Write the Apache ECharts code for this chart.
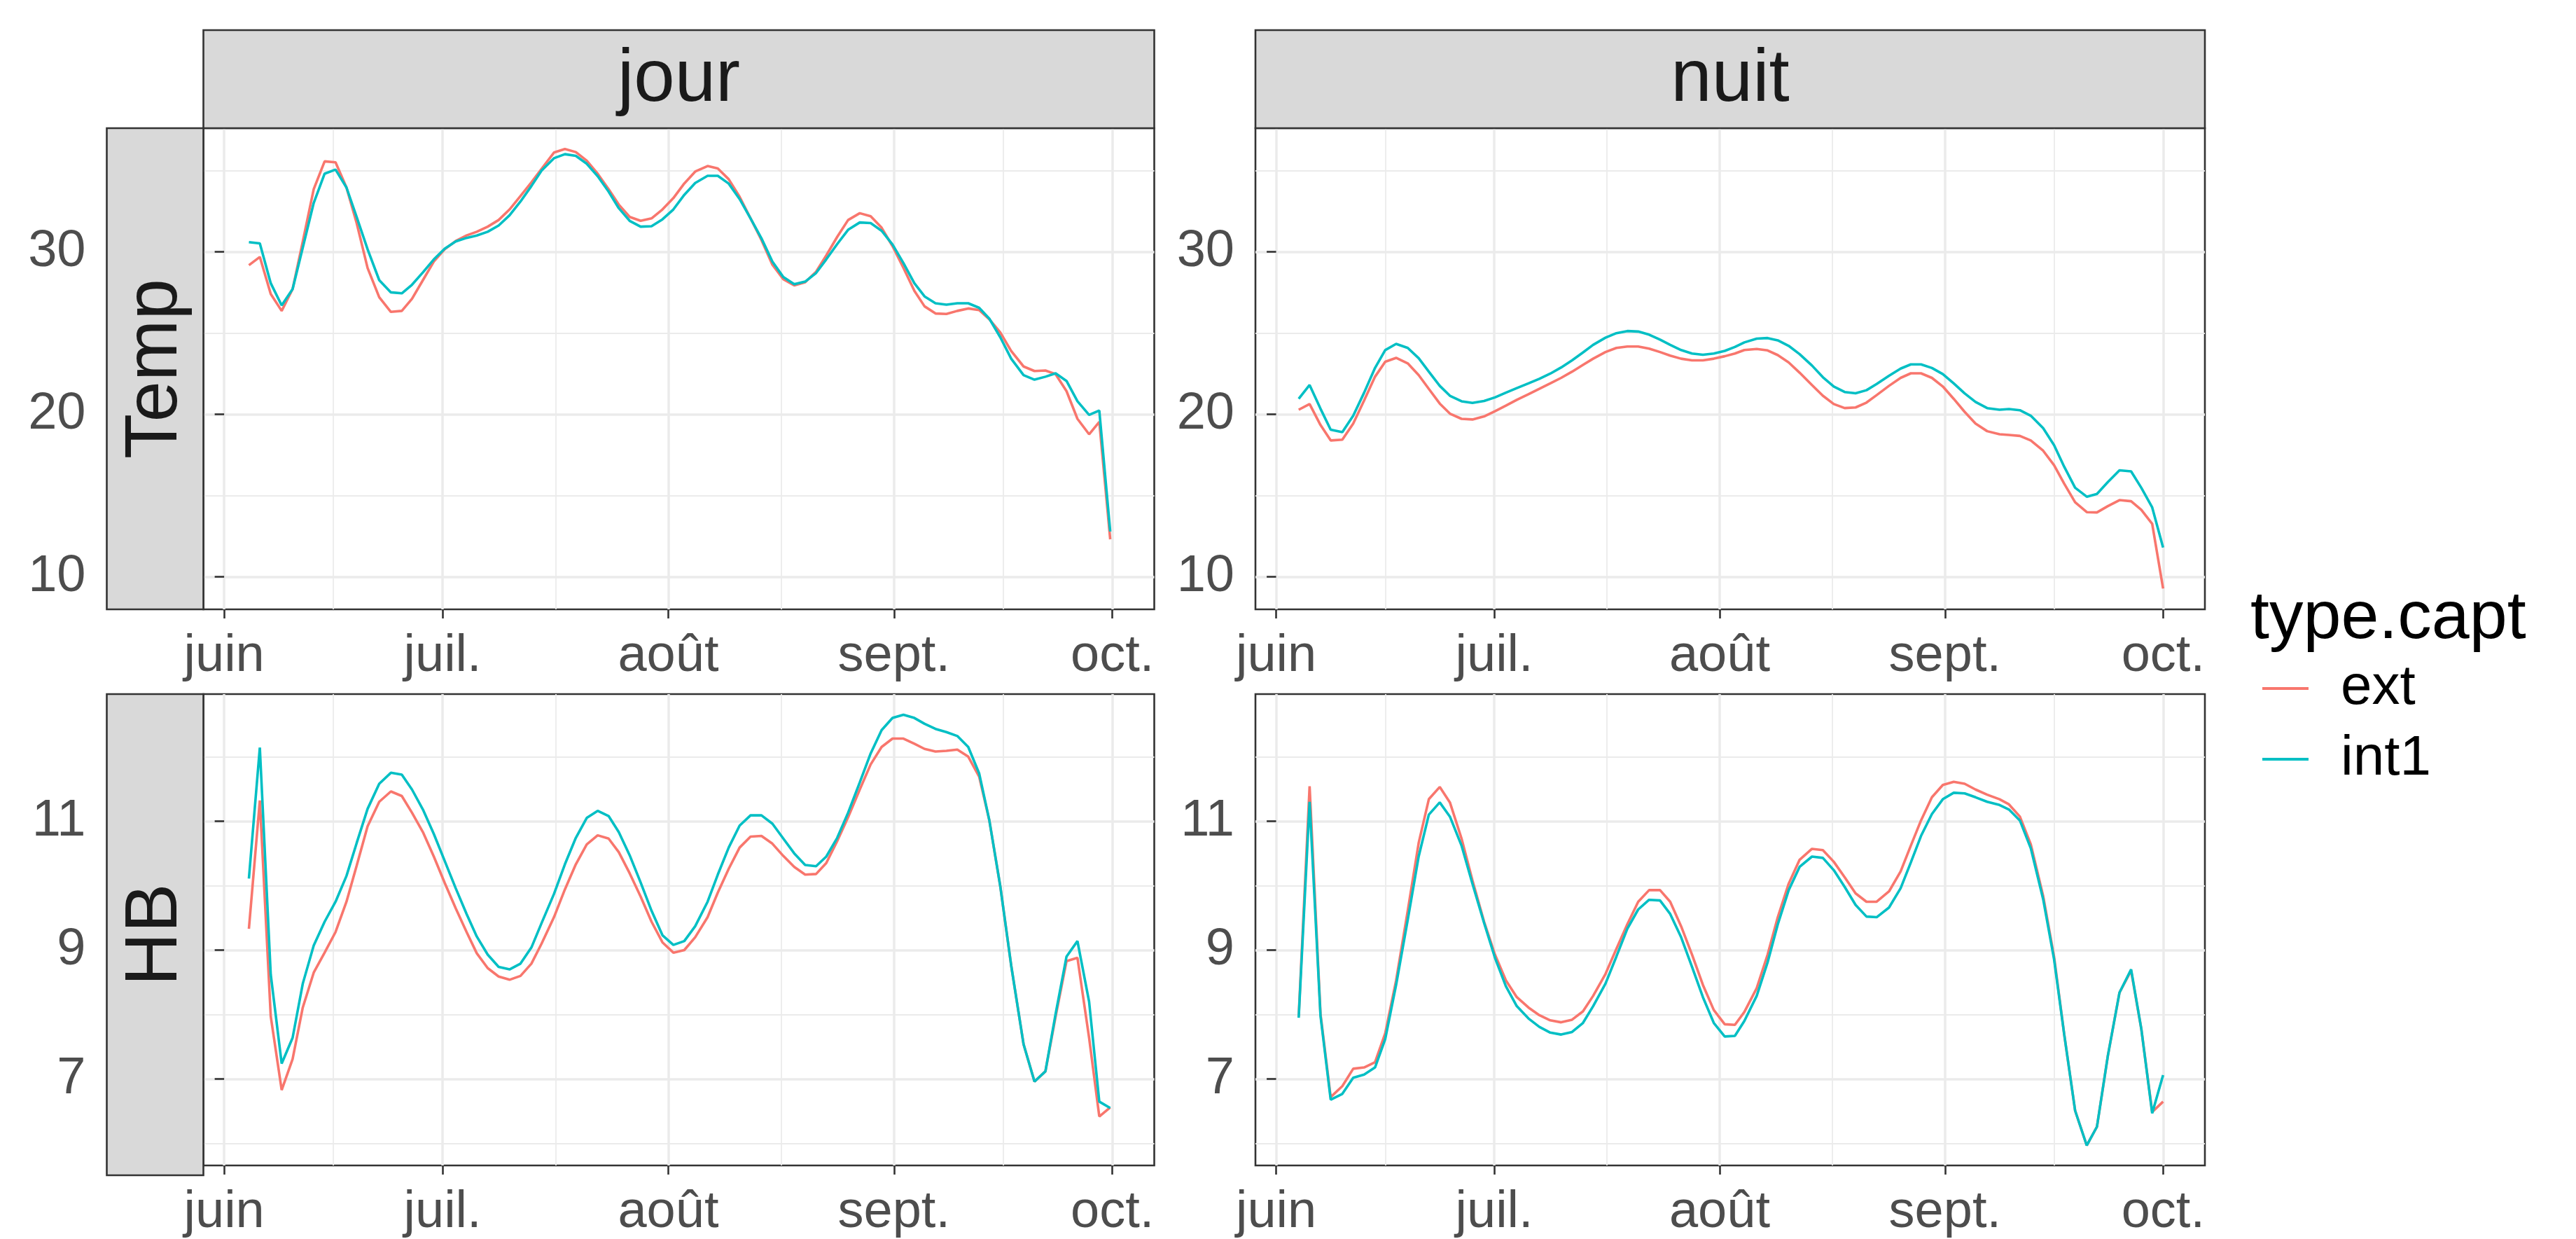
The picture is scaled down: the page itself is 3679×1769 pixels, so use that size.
<!DOCTYPE html>
<html>
<head>
<meta charset="utf-8">
<script src="https://cdn.jsdelivr.net/npm/echarts@6/dist/echarts.min.js"></script>
<style>
html,body{margin:0;padding:0;background:#ffffff;}
#c{width:3679px;height:1769px;}
</style>
</head>
<body>
<div id="c"></div>
<script>
// ---------------- DATA ----------------
// x values: days since 1 June (smoothed curve evaluation points)
const monthTickDays = [0, 30, 61, 92, 122];
const monthLabels = ['juin', 'juil.', 'août', 'sept.', 'oct.'];
const tempTicks = [10, 20, 30];
const hbTicks = [7, 9, 11];
const columnNames = ['jour', 'nuit'];
const rowNames = ['Temp', 'HB'];
const seriesNames = ['ext', 'int1'];

const jourDays = [3.4,4.9,6.4,7.9,9.4,10.8,12.3,13.8,15.3,16.8,18.2,19.7,21.3,22.9,24.4,25.8,27.3,28.8,30.3,31.8,33.3,34.7,36.2,37.7,39.2,40.7,42.2,43.6,45.3,46.8,48.3,49.8,51.3,52.8,54.2,55.7,57.2,58.7,60.2,61.7,63.2,64.7,66.4,67.8,69.3,70.8,72.3,73.8,75.3,76.8,78.3,79.8,81.3,82.7,84.2,85.7,87.3,88.8,90.3,91.8,93.3,94.8,96.2,97.7,99.2,100.7,102.2,103.7,105.1,106.6,108.1,109.8,111.3,112.8,114.2,115.7,117.2,118.8,120.2,121.7];
const nuitDays = [3.1,4.6,6.1,7.5,9.1,10.6,12.1,13.6,15.0,16.5,18.1,19.6,21.0,22.5,23.9,25.5,27.0,28.6,30.1,31.6,33.1,34.7,36.2,37.7,39.2,40.7,42.2,43.6,45.3,46.8,48.3,49.8,51.3,52.8,54.2,55.7,57.2,58.7,60.2,61.7,63.1,64.4,66.1,67.6,69.0,70.5,72.0,73.7,75.2,76.7,78.2,79.7,81.2,82.6,84.3,85.9,87.3,88.7,90.2,91.7,93.2,94.7,96.2,97.8,99.5,100.8,102.3,103.8,105.5,107.0,108.4,109.9,111.5,112.9,114.4,116.0,117.6,119.0,120.5,122.0];

const tempJourExt = [29.17,29.68,27.4,26.36,27.7,30.63,33.85,35.56,35.5,33.95,31.76,29.0,27.2,26.3,26.36,27.1,28.25,29.4,30.15,30.66,31.0,31.23,31.54,31.95,32.6,33.43,34.27,35.1,36.1,36.32,36.13,35.6,34.8,33.85,32.9,32.14,31.9,32.05,32.6,33.3,34.2,34.93,35.27,35.12,34.46,33.38,32.05,30.72,29.2,28.31,27.93,28.12,28.77,29.77,30.91,31.95,32.37,32.18,31.48,30.34,29.01,27.59,26.64,26.2,26.17,26.36,26.51,26.41,25.84,25.03,23.89,22.94,22.66,22.69,22.47,21.42,19.72,18.77,19.53,12.31];
const tempJourInt1 = [30.59,30.51,28.06,26.7,27.7,30.25,33.0,34.8,35.05,33.95,32.14,30.15,28.25,27.5,27.44,27.97,28.73,29.53,30.19,30.63,30.85,31.0,31.23,31.61,32.24,33.09,34.04,34.99,35.75,36.0,35.9,35.41,34.65,33.7,32.68,31.9,31.54,31.57,31.99,32.6,33.5,34.23,34.67,34.67,34.19,33.24,32.05,30.82,29.39,28.44,28.0,28.16,28.69,29.53,30.47,31.35,31.8,31.76,31.29,30.44,29.3,28.06,27.25,26.83,26.74,26.83,26.83,26.55,25.88,24.74,23.42,22.41,22.13,22.31,22.52,22.05,20.8,19.96,20.23,12.79];
const tempNuitExt = [20.28,20.63,19.34,18.39,18.44,19.43,20.85,22.31,23.23,23.47,23.13,22.41,21.56,20.66,20.04,19.72,19.68,19.87,20.19,20.53,20.89,21.23,21.57,21.9,22.24,22.62,23.04,23.42,23.83,24.08,24.17,24.17,24.04,23.83,23.61,23.42,23.32,23.32,23.42,23.57,23.74,23.95,24.02,23.93,23.64,23.19,22.56,21.8,21.14,20.63,20.38,20.42,20.72,21.18,21.75,22.24,22.52,22.52,22.24,21.71,20.95,20.15,19.43,18.96,18.77,18.73,18.67,18.39,17.76,16.87,15.73,14.59,13.98,13.96,14.35,14.72,14.65,14.12,13.26,9.28];
const tempNuitInt1 = [20.95,21.8,20.34,19.05,18.9,19.91,21.33,22.85,23.95,24.33,24.08,23.45,22.62,21.75,21.14,20.8,20.7,20.82,21.04,21.33,21.61,21.9,22.18,22.5,22.88,23.32,23.8,24.27,24.71,24.99,25.12,25.09,24.9,24.59,24.27,23.95,23.74,23.66,23.74,23.9,24.14,24.42,24.65,24.69,24.55,24.21,23.7,23.0,22.28,21.71,21.37,21.29,21.48,21.86,22.37,22.81,23.07,23.07,22.85,22.47,21.9,21.29,20.76,20.38,20.28,20.32,20.25,19.91,19.15,18.1,16.77,15.48,14.93,15.1,15.83,16.55,16.49,15.48,14.27,11.8];
const hbJourExt = [9.33,11.32,7.97,6.83,7.31,8.11,8.65,8.96,9.28,9.75,10.31,10.92,11.3,11.46,11.39,11.13,10.83,10.45,10.04,9.65,9.28,8.95,8.72,8.59,8.54,8.6,8.79,9.1,9.51,9.94,10.33,10.64,10.78,10.73,10.52,10.19,9.83,9.44,9.12,8.96,9.0,9.2,9.51,9.89,10.26,10.59,10.76,10.77,10.65,10.46,10.29,10.17,10.18,10.35,10.69,11.06,11.49,11.88,12.15,12.28,12.28,12.2,12.12,12.08,12.09,12.11,12.0,11.69,11.01,9.99,8.76,7.54,6.96,7.12,7.97,8.83,8.88,7.64,6.42,6.56];
const hbJourInt1 = [10.11,12.14,8.62,7.24,7.64,8.48,9.07,9.44,9.75,10.15,10.66,11.19,11.58,11.75,11.72,11.49,11.18,10.8,10.38,9.96,9.56,9.21,8.93,8.74,8.7,8.79,9.04,9.42,9.87,10.33,10.74,11.05,11.16,11.08,10.83,10.47,10.05,9.61,9.23,9.08,9.14,9.37,9.75,10.17,10.59,10.93,11.09,11.09,10.96,10.73,10.5,10.32,10.3,10.45,10.74,11.13,11.6,12.05,12.41,12.6,12.65,12.6,12.51,12.43,12.38,12.32,12.15,11.74,11.01,9.99,8.76,7.54,6.96,7.12,8.01,8.9,9.14,8.2,6.65,6.55];
const hbNuitExt = [7.97,11.54,8.01,6.72,6.89,7.16,7.18,7.26,7.71,8.53,9.61,10.66,11.34,11.53,11.29,10.73,10.08,9.44,8.93,8.53,8.27,8.11,7.99,7.91,7.88,7.92,8.05,8.29,8.63,9.02,9.4,9.75,9.93,9.93,9.75,9.37,8.93,8.46,8.07,7.85,7.84,8.04,8.41,8.93,9.51,10.03,10.4,10.57,10.55,10.37,10.13,9.88,9.75,9.75,9.91,10.22,10.62,11.01,11.37,11.56,11.61,11.58,11.49,11.41,11.34,11.26,11.07,10.64,9.84,8.9,7.69,6.51,5.97,6.26,7.36,8.34,8.68,7.78,6.49,6.65];
const hbNuitInt1 = [7.95,11.3,7.98,6.68,6.77,7.02,7.07,7.18,7.62,8.46,9.47,10.45,11.1,11.29,11.07,10.62,10.03,9.42,8.88,8.44,8.13,7.94,7.81,7.72,7.69,7.73,7.87,8.13,8.48,8.9,9.33,9.63,9.78,9.77,9.56,9.2,8.74,8.27,7.87,7.66,7.67,7.9,8.29,8.81,9.4,9.93,10.29,10.45,10.43,10.24,9.98,9.7,9.52,9.51,9.66,9.96,10.36,10.77,11.11,11.34,11.44,11.43,11.37,11.3,11.25,11.18,11.01,10.58,9.79,8.86,7.69,6.51,5.97,6.26,7.36,8.34,8.7,7.78,6.47,7.06];

// ---------------- LAYOUT / STYLE ----------------
const FONT = '"Liberation Sans", Arial, sans-serif';
const COLORS = {ext: '#F8766D', int1: '#00BFC4'};
const X_MIN = -2.85, X_MAX = 127.75;
const PANEL_H = 687;
const COL_LEFT = [290.5, 1793];
const COL_W = [1358, 1356];
const ROW_TOP = [183, 991];
const STRIP_TOP = 43;
const ROW_STRIP_LEFT = 152.5;
const BORDER = '#333333';
const GRID_COL = '#EBEBEB';

const panels = [
  {col: 0, row: 0, days: jourDays, ext: tempJourExt, int1: tempJourInt1, yMin: 8.0, yMax: 37.6, ticks: tempTicks},
  {col: 1, row: 0, days: nuitDays, ext: tempNuitExt, int1: tempNuitInt1, yMin: 8.0, yMax: 37.6, ticks: tempTicks},
  {col: 0, row: 1, days: jourDays, ext: hbJourExt, int1: hbJourInt1, yMin: 5.66, yMax: 12.97, ticks: hbTicks},
  {col: 1, row: 1, days: nuitDays, ext: hbNuitExt, int1: hbNuitInt1, yMin: 5.66, yMax: 12.97, ticks: hbTicks}
];

function midpoints(ticks, lo, hi) {
  const out = [];
  const first = ticks[0] - (ticks[1] - ticks[0]) / 2;
  const last = ticks[ticks.length - 1] + (ticks[ticks.length - 1] - ticks[ticks.length - 2]) / 2;
  if (first > lo && first < hi) out.push(first);
  for (let i = 1; i < ticks.length; i++) out.push((ticks[i - 1] + ticks[i]) / 2);
  if (last > lo && last < hi) out.push(last);
  return out.filter(v => v > lo && v < hi);
}
const xMinor = midpoints(monthTickDays, X_MIN, X_MAX);

const grids = [], xAxes = [], yAxes = [], series = [];
panels.forEach((p, i) => {
  grids.push({
    left: COL_LEFT[p.col], top: ROW_TOP[p.row], width: COL_W[p.col], height: PANEL_H,
    show: true, borderColor: BORDER, borderWidth: 2.6, backgroundColor: 'transparent',
    containLabel: false
  });
  // major x axis
  xAxes.push({
    type: 'value', gridIndex: i, min: X_MIN, max: X_MAX, position: 'bottom',
    axisLine: {show: false},
    axisTick: {show: true, length: 13, customValues: monthTickDays, lineStyle: {color: BORDER, width: 2.6}},
    axisLabel: {show: true, customValues: monthTickDays, margin: 31, fontSize: 74, color: '#4D4D4D', fontFamily: FONT,
      formatter: v => monthLabels[monthTickDays.indexOf(v)] || ''},
    splitLine: {show: true, lineStyle: {color: GRID_COL, width: 3.5}}
  });
  // minor x grid
  xAxes.push({
    type: 'value', gridIndex: i, min: X_MIN, max: X_MAX, position: 'top',
    axisLine: {show: false},
    axisTick: {show: false, customValues: xMinor},
    axisLabel: {show: false},
    splitLine: {show: true, lineStyle: {color: GRID_COL, width: 1.8}}
  });
  const yMinor = midpoints(p.ticks, p.yMin, p.yMax);
  const withStrip = p.col === 0;
  yAxes.push({
    type: 'value', gridIndex: i, min: p.yMin, max: p.yMax, position: 'left',
    offset: withStrip ? (COL_LEFT[0] - ROW_STRIP_LEFT) : 0,
    axisLine: {show: false},
    axisTick: {show: true, length: 13.5, customValues: p.ticks, lineStyle: {color: BORDER, width: 2.6}},
    axisLabel: {show: true, customValues: p.ticks, margin: 30, fontSize: 74, color: '#4D4D4D', fontFamily: FONT},
    splitLine: {show: true, lineStyle: {color: GRID_COL, width: 3.5}}
  });
  yAxes.push({
    type: 'value', gridIndex: i, min: p.yMin, max: p.yMax, position: 'right',
    axisLine: {show: false},
    axisTick: {show: false, customValues: yMinor},
    axisLabel: {show: false},
    splitLine: {show: true, lineStyle: {color: GRID_COL, width: 1.8}}
  });
  seriesNames.forEach(name => {
    series.push({
      type: 'line', name: name, xAxisIndex: 2 * i, yAxisIndex: 2 * i,
      data: p.days.map((d, k) => [d, p[name][k]]),
      showSymbol: false, symbol: 'none', smooth: false, clip: true,
      color: COLORS[name],
      lineStyle: {width: 3.6, color: COLORS[name]},
      emphasis: {disabled: true}, z: 3
    });
  });
});

// strips
const graphics = [];
columnNames.forEach((name, c) => {
  graphics.push({type: 'rect', z: 10, shape: {x: COL_LEFT[c], y: STRIP_TOP, width: COL_W[c], height: ROW_TOP[0] - STRIP_TOP},
    style: {fill: '#D9D9D9', stroke: BORDER, lineWidth: 2.6}});
  graphics.push({type: 'text', z: 11, x: COL_LEFT[c] + COL_W[c] / 2, y: (STRIP_TOP + ROW_TOP[0]) / 2 + 2,
    style: {text: name, font: '105px ' + FONT, fill: '#1A1A1A', align: 'center', verticalAlign: 'middle'}});
});
rowNames.forEach((name, r) => {
  const w = COL_LEFT[0] - ROW_STRIP_LEFT;
  graphics.push({type: 'rect', z: 10, shape: {x: ROW_STRIP_LEFT, y: ROW_TOP[r], width: w, height: PANEL_H},
    style: {fill: '#D9D9D9', stroke: BORDER, lineWidth: 2.6}});
  graphics.push({type: 'text', z: 11, x: ROW_STRIP_LEFT + w / 2 + 2, y: ROW_TOP[r] + PANEL_H / 2, rotation: Math.PI / 2,
    style: {text: name, font: '105px ' + FONT, fill: '#1A1A1A', align: 'center', verticalAlign: 'middle'}});
});
// legend title
graphics.push({type: 'text', z: 11, x: 3214, y: 884,
  style: {text: 'type.capt', font: '97px ' + FONT, fill: '#000000', align: 'left', verticalAlign: 'middle'}});

const option = {
  animation: false,
  backgroundColor: '#ffffff',
  grid: grids,
  xAxis: xAxes,
  yAxis: yAxes,
  series: series,
  legend: {
    data: seriesNames, orient: 'vertical', left: 3231, top: 943,
    icon: 'rect', itemWidth: 66, itemHeight: 4, itemGap: 21, selectedMode: false,
    padding: 0,
    textStyle: {fontSize: 80, color: '#000000', fontFamily: FONT, padding: [0, 0, 0, 41]}
  },
  graphic: graphics
};

const chart = echarts.init(document.getElementById('c'), null, {renderer: 'canvas', width: 3679, height: 1769});
chart.setOption(option);
</script>
</body>
</html>
